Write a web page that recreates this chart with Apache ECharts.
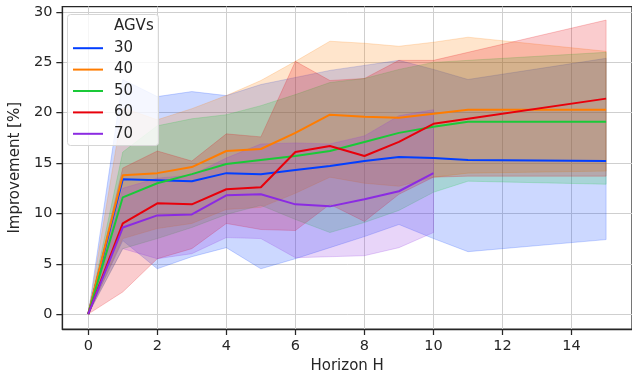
<!DOCTYPE html>
<html>
<head>
<meta charset="utf-8">
<script src="https://cdn.jsdelivr.net/npm/echarts@6/dist/echarts.min.js"></script>
<style>
html,body{margin:0;padding:0;background:#fff;}
#chart{width:632px;height:379px;}
</style>
</head>
<body>
<div id="chart"></div>
<script>
// ---- data ----
const horizons = [0, 1, 2, 3, 4, 5, 6, 7, 8, 9, 10, 11, 15];
const horizons70 = [0, 1, 2, 3, 4, 5, 6, 7, 8, 9, 10];
const agvNames = ['30', '40', '50', '60', '70'];

const mean30 = [0, 13.4, 13.3, 13.2, 14.0, 13.9, 14.3, 14.7, 15.2, 15.6, 15.5, 15.3, 15.2];
const low30  = [0, 7.3, 4.5, 5.7, 6.6, 4.5, 5.5, 6.6, 7.7, 8.9, 7.5, 6.2, 7.4];
const high30 = [0, 23.3, 21.6, 22.1, 21.7, 22.8, 23.5, 24.2, 24.7, 25.2, 24.3, 23.3, 25.4];

const mean40 = [0, 13.8, 14.0, 14.6, 16.2, 16.4, 18.0, 19.8, 19.6, 19.5, 19.9, 20.3, 20.3];
const low40  = [0, 7.5, 8.5, 9.0, 10.4, 10.6, 12.0, 13.6, 13.0, 12.7, 13.6, 14.0, 14.2];
const high40 = [0, 20.5, 19.3, 20.4, 21.7, 23.2, 25.1, 27.1, 26.9, 26.6, 27.0, 27.5, 26.1];

const mean50 = [0, 11.6, 13.0, 13.9, 14.9, 15.3, 15.7, 16.2, 17.1, 18.0, 18.6, 19.1, 19.1];
const low50  = [0, 6.5, 7.5, 8.6, 9.9, 10.8, 9.4, 8.1, 9.1, 10.3, 12.1, 13.2, 12.9];
const high50 = [0, 16.1, 18.7, 19.4, 19.8, 20.7, 21.8, 23.0, 23.4, 24.3, 25.0, 25.2, 26.0];

const mean60 = [0, 9.0, 11.0, 10.9, 12.4, 12.6, 16.1, 16.7, 15.7, 17.1, 18.9, 19.4, 21.4];
const low60  = [0, 2.2, 5.5, 6.5, 9.0, 8.4, 8.3, 10.9, 9.2, 11.9, 13.6, 13.7, 13.7];
const high60 = [0, 14.5, 16.2, 15.2, 17.9, 17.6, 25.1, 23.2, 23.4, 25.2, 25.2, 26.0, 29.2];

const mean70 = [0, 8.6, 9.8, 9.9, 11.8, 11.9, 10.9, 10.7, 11.4, 12.2, 14.0];
const low70  = [0, 6.5, 5.5, 6.0, 7.6, 7.5, 5.6, 5.7, 5.8, 6.6, 8.1];
const high70 = [0, 12.5, 13.5, 13.8, 15.5, 16.9, 17.0, 16.9, 17.7, 19.7, 20.3];

const xTicks = [0, 2, 4, 6, 8, 10, 12, 14];
const yTicks = [0, 5, 10, 15, 20, 25, 30];

// ---- styling ----
const colors = ['#023eff', '#ff7c00', '#1ac938', '#e8000b', '#8b2be2'];
const FONT = 'DejaVu Sans';
const TXT = '#262626';

function rgba(hex, a) {
  const n = parseInt(hex.slice(1), 16);
  return 'rgba(' + ((n >> 16) & 255) + ',' + ((n >> 8) & 255) + ',' + (n & 255) + ',' + a + ')';
}

const groups = [
  { name: agvNames[0], xs: horizons, mean: mean30, lo: low30, hi: high30 },
  { name: agvNames[1], xs: horizons, mean: mean40, lo: low40, hi: high40 },
  { name: agvNames[2], xs: horizons, mean: mean50, lo: low50, hi: high50 },
  { name: agvNames[3], xs: horizons, mean: mean60, lo: low60, hi: high60 },
  { name: agvNames[4], xs: horizons70, mean: mean70, lo: low70, hi: high70 }
];

const series = [];
groups.forEach((g, k) => {
  series.push({
    type: 'custom',
    name: g.name + ' band',
    silent: true,
    clip: true,
    z: 2,
    data: [[g.xs[0], g.lo[0]]],
    renderItem: function (params, api) {
      const pts = [];
      for (let i = 0; i < g.xs.length; i++) pts.push(api.coord([g.xs[i], g.hi[i]]));
      for (let i = g.xs.length - 1; i >= 0; i--) pts.push(api.coord([g.xs[i], g.lo[i]]));
      return {
        type: 'polygon',
        shape: { points: pts },
        style: { fill: rgba(colors[k], 0.2), stroke: rgba(colors[k], 0.2), lineWidth: 1 }
      };
    }
  });
});
groups.forEach((g, k) => {
  series.push({
    type: 'line',
    name: g.name,
    z: 3,
    showSymbol: false,
    symbol: 'none',
    color: colors[k],
    lineStyle: { width: 2, color: colors[k] },
    data: g.xs.map((x, i) => [x, g.mean[i]])
  });
});

const chart = echarts.init(document.getElementById('chart'), null, { renderer: 'canvas' });
chart.setOption({
  animation: false,
  backgroundColor: '#ffffff',
  textStyle: { fontFamily: FONT },
  grid: {
    left: 60, top: 6.5, right: -1.5, bottom: 49,
    show: true, borderColor: TXT, borderWidth: 1.25, backgroundColor: 'transparent'
  },
  xAxis: {
    type: 'value',
    min: -0.75, max: 15.75,
    name: 'Horizon H',
    nameLocation: 'middle',
    nameGap: 30,
    nameTextStyle: { fontFamily: FONT, fontSize: 15, color: TXT },
    axisLine: { show: true, onZero: false, lineStyle: { color: TXT, width: 1.25 } },
    axisTick: { show: true, length: 6, customValues: xTicks, lineStyle: { color: TXT, width: 1.25 } },
    axisLabel: { customValues: xTicks, margin: 10, fontFamily: FONT, fontSize: 14.5, color: TXT },
    splitLine: { show: true, lineStyle: { color: '#cfcfcf', width: 1 } }
  },
  yAxis: {
    type: 'value',
    min: -1.48, max: 30.55,
    name: 'Improvement [%]',
    nameLocation: 'middle',
    nameGap: 38,
    nameTextStyle: { fontFamily: FONT, fontSize: 15, color: TXT },
    axisLine: { show: true, onZero: false, lineStyle: { color: TXT, width: 1.25 } },
    axisTick: { show: true, length: 6, customValues: yTicks, lineStyle: { color: TXT, width: 1.25 } },
    axisLabel: { customValues: yTicks, margin: 10, fontFamily: FONT, fontSize: 14.5, color: TXT },
    splitLine: { show: true, lineStyle: { color: '#cfcfcf', width: 1 } }
  },
  legend: {
    data: agvNames,
    orient: 'vertical',
    left: 73, top: 37.5,
    padding: 0,
    z: 10,
    icon: 'rect',
    itemWidth: 30, itemHeight: 2,
    itemGap: 0,
    textStyle: { fontFamily: FONT, fontSize: 15, color: TXT, lineHeight: 21.4, padding: [0, 0, 0, 6] }
  },
  graphic: [
    {
      type: 'rect', z: 5, silent: true,
      shape: { x: 67.5, y: 14.5, width: 91, height: 131, r: 3 },
      style: { fill: 'rgba(255,255,255,0.8)', stroke: '#d6d6d6', lineWidth: 1 }
    },
    {
      type: 'text', z: 11, silent: true,
      style: { text: 'AGVs', x: 114, y: 26, fill: TXT, font: '15px "DejaVu Sans"', verticalAlign: 'middle', align: 'left' }
    }
  ],
  series: series
});
</script>
</body>
</html>
